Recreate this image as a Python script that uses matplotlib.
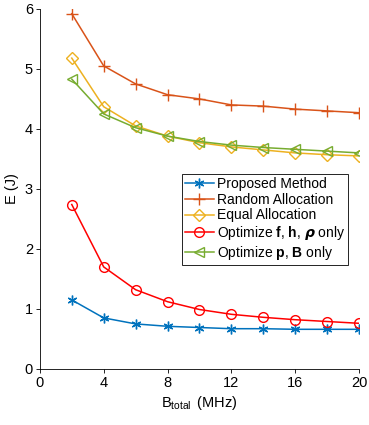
import matplotlib
matplotlib.use("Agg")
import matplotlib.pyplot as plt

plt.rcParams["font.family"] = ["Liberation Sans", "DejaVu Sans"]
plt.rcParams["mathtext.fontset"] = "custom"
plt.rcParams["mathtext.rm"] = "Liberation Sans"
plt.rcParams["mathtext.it"] = "Liberation Sans:italic"
plt.rcParams["mathtext.bf"] = "Liberation Sans:bold"
plt.rcParams["mathtext.bfit"] = "DejaVu Sans:italic:bold"

# data
b_total = [2, 4, 6, 8, 10, 12, 14, 16, 18, 20]
proposed = [1.15, 0.85, 0.75, 0.71, 0.69, 0.67, 0.67, 0.66, 0.66, 0.66]
random_alloc = [5.92, 5.05, 4.75, 4.57, 4.50, 4.40, 4.38, 4.33, 4.30, 4.27]
equal_alloc = [5.18, 4.37, 4.05, 3.88, 3.77, 3.70, 3.65, 3.60, 3.57, 3.55]
opt_fhrho = [2.74, 1.70, 1.32, 1.12, 0.99, 0.91, 0.86, 0.82, 0.79, 0.76]
opt_pb = [4.83, 4.25, 4.02, 3.88, 3.79, 3.73, 3.69, 3.66, 3.63, 3.60]

x_ticks = [0, 4, 8, 12, 16, 20]
y_ticks = [0, 1, 2, 3, 4, 5, 6]

fig = plt.figure(figsize=(3.69, 4.25), dpi=100)
ax = fig.add_axes([0.108, 0.132, 0.865, 0.847])

asterisk = (6, 2, 0)
ax.plot(b_total, proposed, color="#0072BD", marker=asterisk, ms=7, lw=1.1,
        label="Proposed Method")
ax.plot(b_total, random_alloc, color="#D95319", marker="+", ms=8, lw=1.1,
        label="Random Allocation")
ax.plot(b_total, equal_alloc, color="#EDB120", marker="D", ms=6, lw=1.1,
        mfc="none", label="Equal Allocation")
ax.plot(b_total, opt_fhrho, color="#FF0000", marker="o", ms=7, lw=1.1,
        mfc="none", label=r"Optimize $\mathbf{f}$, $\mathbf{h}$, $\boldsymbol{\rho}$ only")
ax.plot(b_total, opt_pb, color="#77AC30", marker="<", ms=7, lw=1.1,
        mfc="none", label=r"Optimize $\mathbf{p}$, $\mathbf{B}$ only")

ax.set_xlim(0, 20)
ax.set_ylim(0, 6)
ax.set_xticks(x_ticks)
ax.set_yticks(y_ticks)
ax.tick_params(direction="out", labelsize=10.5, length=3, width=0.6, pad=2)
for side in ["top", "right"]:
    ax.spines[side].set_visible(False)
for side in ["left", "bottom"]:
    ax.spines[side].set_linewidth(0.6)

ax.set_xlabel(r"B$_{\mathrm{total}}$ $\,$(MHz)", fontsize=10.5, labelpad=3)
ax.set_ylabel("E (J)", fontsize=10.5, labelpad=4)

leg = ax.legend(loc="lower left", bbox_to_anchor=(0.445, 0.29), fontsize=10,
                fancybox=False, edgecolor="black", framealpha=1,
                handlelength=2.1, handletextpad=0.25, borderpad=0.2,
                labelspacing=0.12, borderaxespad=0)
leg.get_frame().set_linewidth(0.6)

fig.savefig("out.png", dpi=100)
